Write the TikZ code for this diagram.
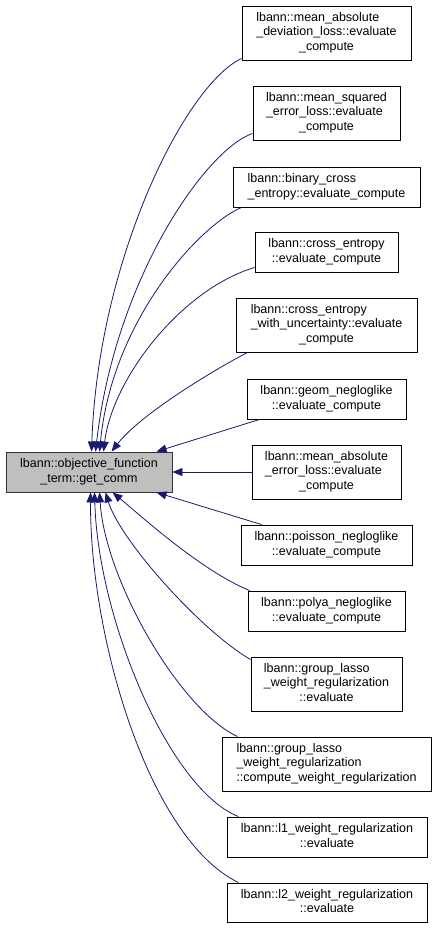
\documentclass[tikz,border=0pt]{standalone}
\usepackage{fontspec}
\setmainfont{Liberation Sans}
\usepackage{tikz}
\usetikzlibrary{arrows.meta}
\definecolor{edgeblue}{RGB}{25,25,112}
\definecolor{curgray}{RGB}{191,191,191}
% graphviz style label: left lines, last line centred
\newcommand{\fnlabel}[2]{\begin{tabular}{@{}l@{}}#1\\\multicolumn{1}{@{}c@{}}{#2}\end{tabular}}

\begin{document}
\begin{tikzpicture}[x=1pt,y=-1pt,
  fn/.style={draw=black,fill=white,line width=0.9pt,inner sep=2pt,
    font=\fontsize{12.5}{14.5}\selectfont,minimum height=40pt},
  cur/.style={fn,fill=curgray,draw=black!80},
  call/.style={edgeblue,line width=0.8pt,-{Triangle[length=10pt,width=8pt]}}]
 \useasboundingbox (0,0) rectangle (437,928);
 \node[cur,minimum width=166pt] (getcomm) at (89,472) {\fnlabel{lbann::objective\_function}{\_term::get\_comm}};
 \node[fn,minimum width=169pt,minimum height=54pt] (madl) at (326.5,33) {\fnlabel{lbann::mean\_absolute\\\_deviation\_loss::evaluate}{\_compute}};
 \node[fn,minimum width=147pt,minimum height=54pt] (msel) at (326.5,113) {\fnlabel{lbann::mean\_squared\\\_error\_loss::evaluate}{\_compute}};
 \node[fn,minimum width=187pt] (bce) at (326.5,187) {\fnlabel{lbann::binary\_cross}{\_entropy::evaluate\_compute}};
 \node[fn,minimum width=143pt] (ce) at (326.5,252) {\fnlabel{lbann::cross\_entropy}{::evaluate\_compute}};
 \node[fn,minimum width=181pt,minimum height=54pt] (ceu) at (326.5,325) {\fnlabel{lbann::cross\_entropy\\\_with\_uncertainty::evaluate}{\_compute}};
 \node[fn,minimum width=159pt] (geom) at (326.5,399) {\fnlabel{lbann::geom\_negloglike}{::evaluate\_compute}};
 \node[fn,minimum width=149pt,minimum height=54pt] (mael) at (326.5,472) {\fnlabel{lbann::mean\_absolute\\\_error\_loss::evaluate}{\_compute}};
 \node[fn,minimum width=171pt] (poisson) at (326.5,545) {\fnlabel{lbann::poisson\_negloglike}{::evaluate\_compute}};
 \node[fn,minimum width=157pt] (polya) at (326.5,611) {\fnlabel{lbann::polya\_negloglike}{::evaluate\_compute}};
 \node[fn,minimum width=151pt,minimum height=54pt] (glev) at (326.5,684) {\fnlabel{lbann::group\_lasso\\\_weight\_regularization}{::evaluate}};
 \node[fn,minimum width=209pt,minimum height=54pt] (glcw) at (326.5,764) {\fnlabel{lbann::group\_lasso\\\_weight\_regularization}{::compute\_weight\_regularization}};
 \node[fn,minimum width=200pt] (lone) at (327,837) {\fnlabel{lbann::l1\_weight\_regularization}{::evaluate}};
 \node[fn,minimum width=200pt,minimum height=39pt] (ltwo) at (327,902.5) {\fnlabel{lbann::l2\_weight\_regularization}{::evaluate}};
 % callers above
 \draw[call] ([yshift=2pt]madl.south west) .. controls (185,85) and (98,260) .. ([xshift=86pt]getcomm.north west);
 \draw[call] ([yshift=7pt]msel.south west) .. controls (205,150) and (115,280) .. ([xshift=90pt]getcomm.north west);
 \draw[call] ([xshift=9pt]bce.south west) .. controls (200,225) and (112,320) .. ([xshift=94pt]getcomm.north west);
 \draw[call] ([yshift=5pt]ce.south west) .. controls (180,290) and (112,380) .. ([xshift=98pt]getcomm.north west);
 \draw[call] ([xshift=12pt]ceu.south west) .. controls (210,372) and (140,415) .. ([xshift=106pt]getcomm.north west);
 \draw[call] ([xshift=13pt]geom.south west) -- ([xshift=151pt]getcomm.north west);
 \draw[call] (mael.west) -- (getcomm.east);
 % callers below
 \draw[call] ([xshift=21pt]poisson.north west) -- ([xshift=151pt]getcomm.south west);
 \draw[call] ([xshift=2pt]polya.north west) .. controls (200,570) and (140,515) .. ([xshift=107pt]getcomm.south west);
 \draw[call] ([yshift=-3pt]glev.north west) .. controls (200,630) and (120,540) .. ([xshift=100pt]getcomm.south west);
 \draw[call] ([xshift=16pt]glcw.north west) .. controls (180,710) and (105,580) .. ([xshift=94pt]getcomm.south west);
 \draw[call] ([xshift=12pt]lone.north west) .. controls (170,790) and (98,620) .. ([xshift=89pt]getcomm.south west);
 \draw[call] ([xshift=12pt]ltwo.north west) .. controls (150,840) and (90,640) .. ([xshift=85pt]getcomm.south west);
\end{tikzpicture}
\end{document}
